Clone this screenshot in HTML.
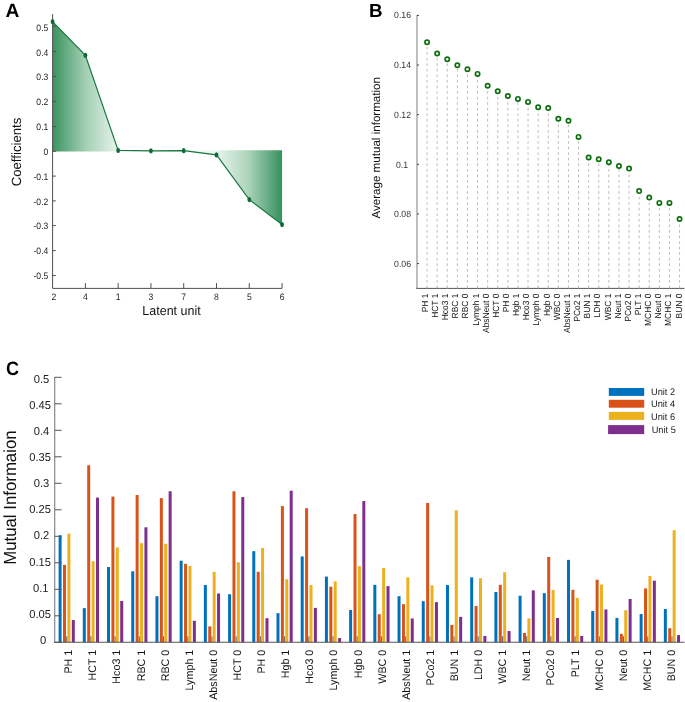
<!DOCTYPE html>
<html><head><meta charset="utf-8"><style>
html,body{margin:0;padding:0;background:#fff;}
svg{display:block;will-change:transform;}
text{font-family:"Liberation Sans", sans-serif;text-rendering:geometricPrecision;}
</style></head><body>
<svg width="685" height="702" viewBox="0 0 685 702" font-family='"Liberation Sans", sans-serif'>
<rect width="685" height="702" fill="#fff"/>
<defs>
<linearGradient id="gpos" gradientUnits="userSpaceOnUse" x1="52.6" y1="0" x2="118.2" y2="0"><stop offset="0" stop-color="#3a935f"/><stop offset="0.5" stop-color="#a3cfb4"/><stop offset="1" stop-color="#e9f4ed"/></linearGradient>
<linearGradient id="gneg" gradientUnits="userSpaceOnUse" x1="212" y1="0" x2="282.1" y2="0"><stop offset="0" stop-color="#eff8f2"/><stop offset="0.5" stop-color="#b0d6bf"/><stop offset="1" stop-color="#35915d"/></linearGradient>
</defs>
<polygon points="52.6,151.4 52.6,21.7 85.38,55.3 118.16,150.4 118.16,151.4" fill="url(#gpos)"/>
<polygon points="183.72,150.3 183.72,150.7 216.5,154.9 249.28,199.6 282.06,224.6 282.06,150.3" fill="url(#gneg)"/>
<path d="M52.6,14 V288.4 H282.06" fill="none" stroke="#505050" stroke-width="1"/>
<line x1="52.6" y1="26.40" x2="55.800000000000004" y2="26.40" stroke="#505050" stroke-width="1"/>
<text transform="translate(48.3,30.70) scale(0.915,1)" text-anchor="end" font-size="9.4" fill="#222">0.5</text>
<line x1="52.6" y1="51.50" x2="55.800000000000004" y2="51.50" stroke="#505050" stroke-width="1"/>
<text transform="translate(48.3,55.54) scale(0.915,1)" text-anchor="end" font-size="9.4" fill="#222">0.4</text>
<line x1="52.6" y1="76.40" x2="55.800000000000004" y2="76.40" stroke="#505050" stroke-width="1"/>
<text transform="translate(48.3,80.38) scale(0.915,1)" text-anchor="end" font-size="9.4" fill="#222">0.3</text>
<line x1="52.6" y1="101.40" x2="55.800000000000004" y2="101.40" stroke="#505050" stroke-width="1"/>
<text transform="translate(48.3,105.22) scale(0.915,1)" text-anchor="end" font-size="9.4" fill="#222">0.2</text>
<line x1="52.6" y1="126.50" x2="55.800000000000004" y2="126.50" stroke="#505050" stroke-width="1"/>
<text transform="translate(48.3,130.06) scale(0.915,1)" text-anchor="end" font-size="9.4" fill="#222">0.1</text>
<line x1="52.6" y1="151.40" x2="55.800000000000004" y2="151.40" stroke="#505050" stroke-width="1"/>
<text transform="translate(48.3,154.90) scale(0.915,1)" text-anchor="end" font-size="9.4" fill="#222">0</text>
<line x1="52.6" y1="176.10" x2="55.800000000000004" y2="176.10" stroke="#505050" stroke-width="1"/>
<text transform="translate(48.3,179.74) scale(0.915,1)" text-anchor="end" font-size="9.4" fill="#222">-0.1</text>
<line x1="52.6" y1="200.90" x2="55.800000000000004" y2="200.90" stroke="#505050" stroke-width="1"/>
<text transform="translate(48.3,204.58) scale(0.915,1)" text-anchor="end" font-size="9.4" fill="#222">-0.2</text>
<line x1="52.6" y1="225.60" x2="55.800000000000004" y2="225.60" stroke="#505050" stroke-width="1"/>
<text transform="translate(48.3,229.42) scale(0.915,1)" text-anchor="end" font-size="9.4" fill="#222">-0.3</text>
<line x1="52.6" y1="250.60" x2="55.800000000000004" y2="250.60" stroke="#505050" stroke-width="1"/>
<text transform="translate(48.3,254.26) scale(0.915,1)" text-anchor="end" font-size="9.4" fill="#222">-0.4</text>
<line x1="52.6" y1="275.50" x2="55.800000000000004" y2="275.50" stroke="#505050" stroke-width="1"/>
<text transform="translate(48.3,279.10) scale(0.915,1)" text-anchor="end" font-size="9.4" fill="#222">-0.5</text>
<line x1="85.38" y1="283.1" x2="85.38" y2="288.4" stroke="#505050" stroke-width="1"/>
<line x1="118.16" y1="283.1" x2="118.16" y2="288.4" stroke="#505050" stroke-width="1"/>
<line x1="150.94" y1="283.1" x2="150.94" y2="288.4" stroke="#505050" stroke-width="1"/>
<line x1="183.72" y1="283.1" x2="183.72" y2="288.4" stroke="#505050" stroke-width="1"/>
<line x1="216.50" y1="283.1" x2="216.50" y2="288.4" stroke="#505050" stroke-width="1"/>
<line x1="249.28" y1="283.1" x2="249.28" y2="288.4" stroke="#505050" stroke-width="1"/>
<line x1="282.06" y1="283.1" x2="282.06" y2="288.4" stroke="#505050" stroke-width="1"/>
<text transform="translate(54.00,299.5) scale(0.915,1)" text-anchor="middle" font-size="9.4" fill="#222">2</text>
<text transform="translate(85.38,299.5) scale(0.915,1)" text-anchor="middle" font-size="9.4" fill="#222">4</text>
<text transform="translate(118.16,299.5) scale(0.915,1)" text-anchor="middle" font-size="9.4" fill="#222">1</text>
<text transform="translate(150.94,299.5) scale(0.915,1)" text-anchor="middle" font-size="9.4" fill="#222">3</text>
<text transform="translate(183.72,299.5) scale(0.915,1)" text-anchor="middle" font-size="9.4" fill="#222">7</text>
<text transform="translate(216.50,299.5) scale(0.915,1)" text-anchor="middle" font-size="9.4" fill="#222">8</text>
<text transform="translate(249.28,299.5) scale(0.915,1)" text-anchor="middle" font-size="9.4" fill="#222">5</text>
<text transform="translate(282.06,299.5) scale(0.915,1)" text-anchor="middle" font-size="9.4" fill="#222">6</text>
<polyline points="52.60,21.7 85.38,55.3 118.16,150.4 150.94,150.8 183.72,150.7 216.50,154.9 249.28,199.6 282.06,224.6" fill="none" stroke="#17773f" stroke-width="1.2"/>
<ellipse cx="52.60" cy="21.7" rx="1.9" ry="2.6" fill="#0e6a35"/>
<ellipse cx="85.38" cy="55.3" rx="1.9" ry="2.6" fill="#0e6a35"/>
<ellipse cx="118.16" cy="150.4" rx="1.9" ry="2.6" fill="#0e6a35"/>
<ellipse cx="150.94" cy="150.8" rx="1.9" ry="2.6" fill="#0e6a35"/>
<ellipse cx="183.72" cy="150.7" rx="1.9" ry="2.6" fill="#0e6a35"/>
<ellipse cx="216.50" cy="154.9" rx="1.9" ry="2.6" fill="#0e6a35"/>
<ellipse cx="249.28" cy="199.6" rx="1.9" ry="2.6" fill="#0e6a35"/>
<ellipse cx="282.06" cy="224.6" rx="1.9" ry="2.6" fill="#0e6a35"/>
<text x="5.6" y="16.9" font-size="19.2" font-weight="bold">A</text>
<text transform="translate(21.4,152) rotate(-90) scale(0.985,1)" text-anchor="middle" font-size="13.4" fill="#111">Coefficients</text>
<text transform="translate(171.5,315) scale(0.96,1)" text-anchor="middle" font-size="13" fill="#111">Latent unit</text>
<text x="368.9" y="16.9" font-size="18.8" font-weight="bold">B</text>
<line x1="417.0" y1="15" x2="417.0" y2="288.4" stroke="#a8a8a8" stroke-width="1.5"/>
<line x1="416.3" y1="288.4" x2="684.5" y2="288.4" stroke="#555" stroke-width="1"/>
<line x1="417.0" y1="263.60" x2="419.0" y2="263.60" stroke="#444" stroke-width="1"/>
<text transform="translate(411,266.50) scale(0.967,1)" text-anchor="end" font-size="9" fill="#333">0.06</text>
<line x1="417.0" y1="213.96" x2="419.0" y2="213.96" stroke="#444" stroke-width="1"/>
<text transform="translate(411,216.86) scale(0.967,1)" text-anchor="end" font-size="9" fill="#333">0.08</text>
<line x1="417.0" y1="164.32" x2="419.0" y2="164.32" stroke="#444" stroke-width="1"/>
<text transform="translate(408.1,168.22) scale(0.967,1)" text-anchor="end" font-size="9" fill="#333">0.1</text>
<line x1="417.0" y1="114.68" x2="419.0" y2="114.68" stroke="#444" stroke-width="1"/>
<text transform="translate(411,117.58) scale(0.967,1)" text-anchor="end" font-size="9" fill="#333">0.12</text>
<line x1="417.0" y1="65.04" x2="419.0" y2="65.04" stroke="#444" stroke-width="1"/>
<text transform="translate(411,67.94) scale(0.967,1)" text-anchor="end" font-size="9" fill="#333">0.14</text>
<line x1="417.0" y1="15.40" x2="419.0" y2="15.40" stroke="#444" stroke-width="1"/>
<text transform="translate(411,18.30) scale(0.967,1)" text-anchor="end" font-size="9" fill="#333">0.16</text>
<line x1="427.05" y1="44.90" x2="427.05" y2="288.09999999999997" stroke="#bdbdbd" stroke-width="1" stroke-dasharray="2.7 2.857" stroke-dashoffset="3.81"/>
<line x1="427.05" y1="286.4" x2="427.05" y2="288.4" stroke="#bbb" stroke-width="0.8"/>
<line x1="437.15" y1="56.10" x2="437.15" y2="288.09999999999997" stroke="#bdbdbd" stroke-width="1" stroke-dasharray="2.7 2.857" stroke-dashoffset="3.89"/>
<line x1="437.15" y1="286.4" x2="437.15" y2="288.4" stroke="#bbb" stroke-width="0.8"/>
<line x1="447.25" y1="61.80" x2="447.25" y2="288.09999999999997" stroke="#bdbdbd" stroke-width="1" stroke-dasharray="2.7 2.857" stroke-dashoffset="4.04"/>
<line x1="447.25" y1="286.4" x2="447.25" y2="288.4" stroke="#bbb" stroke-width="0.8"/>
<line x1="457.35" y1="67.80" x2="457.35" y2="288.09999999999997" stroke="#bdbdbd" stroke-width="1" stroke-dasharray="2.7 2.857" stroke-dashoffset="4.48"/>
<line x1="457.35" y1="286.4" x2="457.35" y2="288.4" stroke="#bbb" stroke-width="0.8"/>
<line x1="467.45" y1="71.80" x2="467.45" y2="288.09999999999997" stroke="#bdbdbd" stroke-width="1" stroke-dasharray="2.7 2.857" stroke-dashoffset="2.92"/>
<line x1="467.45" y1="286.4" x2="467.45" y2="288.4" stroke="#bbb" stroke-width="0.8"/>
<line x1="477.55" y1="76.50" x2="477.55" y2="288.09999999999997" stroke="#bdbdbd" stroke-width="1" stroke-dasharray="2.7 2.857" stroke-dashoffset="2.06"/>
<line x1="477.55" y1="286.4" x2="477.55" y2="288.4" stroke="#bbb" stroke-width="0.8"/>
<line x1="487.65" y1="88.40" x2="487.65" y2="288.09999999999997" stroke="#bdbdbd" stroke-width="1" stroke-dasharray="2.7 2.857" stroke-dashoffset="2.85"/>
<line x1="487.65" y1="286.4" x2="487.65" y2="288.4" stroke="#bbb" stroke-width="0.8"/>
<line x1="497.75" y1="93.90" x2="497.75" y2="288.09999999999997" stroke="#bdbdbd" stroke-width="1" stroke-dasharray="2.7 2.857" stroke-dashoffset="2.79"/>
<line x1="497.75" y1="286.4" x2="497.75" y2="288.4" stroke="#bbb" stroke-width="0.8"/>
<line x1="507.85" y1="98.60" x2="507.85" y2="288.09999999999997" stroke="#bdbdbd" stroke-width="1" stroke-dasharray="2.7 2.857" stroke-dashoffset="1.94"/>
<line x1="507.85" y1="286.4" x2="507.85" y2="288.4" stroke="#bbb" stroke-width="0.8"/>
<line x1="517.95" y1="101.50" x2="517.95" y2="288.09999999999997" stroke="#bdbdbd" stroke-width="1" stroke-dasharray="2.7 2.857" stroke-dashoffset="4.84"/>
<line x1="517.95" y1="286.4" x2="517.95" y2="288.4" stroke="#bbb" stroke-width="0.8"/>
<line x1="528.05" y1="104.50" x2="528.05" y2="288.09999999999997" stroke="#bdbdbd" stroke-width="1" stroke-dasharray="2.7 2.857" stroke-dashoffset="2.28"/>
<line x1="528.05" y1="286.4" x2="528.05" y2="288.4" stroke="#bbb" stroke-width="0.8"/>
<line x1="538.15" y1="109.90" x2="538.15" y2="288.09999999999997" stroke="#bdbdbd" stroke-width="1" stroke-dasharray="2.7 2.857" stroke-dashoffset="2.12"/>
<line x1="538.15" y1="286.4" x2="538.15" y2="288.4" stroke="#bbb" stroke-width="0.8"/>
<line x1="548.25" y1="110.70" x2="548.25" y2="288.09999999999997" stroke="#bdbdbd" stroke-width="1" stroke-dasharray="2.7 2.857" stroke-dashoffset="2.92"/>
<line x1="548.25" y1="286.4" x2="548.25" y2="288.4" stroke="#bbb" stroke-width="0.8"/>
<line x1="558.35" y1="121.30" x2="558.35" y2="288.09999999999997" stroke="#bdbdbd" stroke-width="1" stroke-dasharray="2.7 2.857" stroke-dashoffset="2.41"/>
<line x1="558.35" y1="286.4" x2="558.35" y2="288.4" stroke="#bbb" stroke-width="0.8"/>
<line x1="568.45" y1="123.30" x2="568.45" y2="288.09999999999997" stroke="#bdbdbd" stroke-width="1" stroke-dasharray="2.7 2.857" stroke-dashoffset="4.41"/>
<line x1="568.45" y1="286.4" x2="568.45" y2="288.4" stroke="#bbb" stroke-width="0.8"/>
<line x1="578.55" y1="139.50" x2="578.55" y2="288.09999999999997" stroke="#bdbdbd" stroke-width="1" stroke-dasharray="2.7 2.857" stroke-dashoffset="3.94"/>
<line x1="578.55" y1="286.4" x2="578.55" y2="288.4" stroke="#bbb" stroke-width="0.8"/>
<line x1="588.65" y1="160.10" x2="588.65" y2="288.09999999999997" stroke="#bdbdbd" stroke-width="1" stroke-dasharray="2.7 2.857" stroke-dashoffset="2.31"/>
<line x1="588.65" y1="286.4" x2="588.65" y2="288.4" stroke="#bbb" stroke-width="0.8"/>
<line x1="598.75" y1="161.90" x2="598.75" y2="288.09999999999997" stroke="#bdbdbd" stroke-width="1" stroke-dasharray="2.7 2.857" stroke-dashoffset="4.11"/>
<line x1="598.75" y1="286.4" x2="598.75" y2="288.4" stroke="#bbb" stroke-width="0.8"/>
<line x1="608.85" y1="164.90" x2="608.85" y2="288.09999999999997" stroke="#bdbdbd" stroke-width="1" stroke-dasharray="2.7 2.857" stroke-dashoffset="1.55"/>
<line x1="608.85" y1="286.4" x2="608.85" y2="288.4" stroke="#bbb" stroke-width="0.8"/>
<line x1="618.95" y1="168.60" x2="618.95" y2="288.09999999999997" stroke="#bdbdbd" stroke-width="1" stroke-dasharray="2.7 2.857" stroke-dashoffset="5.25"/>
<line x1="618.95" y1="286.4" x2="618.95" y2="288.4" stroke="#bbb" stroke-width="0.8"/>
<line x1="629.05" y1="171.20" x2="629.05" y2="288.09999999999997" stroke="#bdbdbd" stroke-width="1" stroke-dasharray="2.7 2.857" stroke-dashoffset="2.30"/>
<line x1="629.05" y1="286.4" x2="629.05" y2="288.4" stroke="#bbb" stroke-width="0.8"/>
<line x1="639.15" y1="193.70" x2="639.15" y2="288.09999999999997" stroke="#bdbdbd" stroke-width="1" stroke-dasharray="2.7 2.857" stroke-dashoffset="2.57"/>
<line x1="639.15" y1="286.4" x2="639.15" y2="288.4" stroke="#bbb" stroke-width="0.8"/>
<line x1="649.25" y1="200.20" x2="649.25" y2="288.09999999999997" stroke="#bdbdbd" stroke-width="1" stroke-dasharray="2.7 2.857" stroke-dashoffset="3.51"/>
<line x1="649.25" y1="286.4" x2="649.25" y2="288.4" stroke="#bbb" stroke-width="0.8"/>
<line x1="659.35" y1="205.50" x2="659.35" y2="288.09999999999997" stroke="#bdbdbd" stroke-width="1" stroke-dasharray="2.7 2.857" stroke-dashoffset="3.25"/>
<line x1="659.35" y1="286.4" x2="659.35" y2="288.4" stroke="#bbb" stroke-width="0.8"/>
<line x1="669.45" y1="205.50" x2="669.45" y2="288.09999999999997" stroke="#bdbdbd" stroke-width="1" stroke-dasharray="2.7 2.857" stroke-dashoffset="3.25"/>
<line x1="669.45" y1="286.4" x2="669.45" y2="288.4" stroke="#bbb" stroke-width="0.8"/>
<line x1="679.55" y1="221.60" x2="679.55" y2="288.09999999999997" stroke="#bdbdbd" stroke-width="1" stroke-dasharray="2.7 2.857" stroke-dashoffset="2.68"/>
<line x1="679.55" y1="286.4" x2="679.55" y2="288.4" stroke="#bbb" stroke-width="0.8"/>
<circle cx="427.05" cy="42.3" r="2.15" fill="#fff" stroke="#0b6f0b" stroke-width="1.7"/>
<circle cx="437.15" cy="53.5" r="2.15" fill="#fff" stroke="#0b6f0b" stroke-width="1.7"/>
<circle cx="447.25" cy="59.2" r="2.15" fill="#fff" stroke="#0b6f0b" stroke-width="1.7"/>
<circle cx="457.35" cy="65.2" r="2.15" fill="#fff" stroke="#0b6f0b" stroke-width="1.7"/>
<circle cx="467.45" cy="69.2" r="2.15" fill="#fff" stroke="#0b6f0b" stroke-width="1.7"/>
<circle cx="477.55" cy="73.9" r="2.15" fill="#fff" stroke="#0b6f0b" stroke-width="1.7"/>
<circle cx="487.65" cy="85.8" r="2.15" fill="#fff" stroke="#0b6f0b" stroke-width="1.7"/>
<circle cx="497.75" cy="91.3" r="2.15" fill="#fff" stroke="#0b6f0b" stroke-width="1.7"/>
<circle cx="507.85" cy="96.0" r="2.15" fill="#fff" stroke="#0b6f0b" stroke-width="1.7"/>
<circle cx="517.95" cy="98.9" r="2.15" fill="#fff" stroke="#0b6f0b" stroke-width="1.7"/>
<circle cx="528.05" cy="101.9" r="2.15" fill="#fff" stroke="#0b6f0b" stroke-width="1.7"/>
<circle cx="538.15" cy="107.3" r="2.15" fill="#fff" stroke="#0b6f0b" stroke-width="1.7"/>
<circle cx="548.25" cy="108.1" r="2.15" fill="#fff" stroke="#0b6f0b" stroke-width="1.7"/>
<circle cx="558.35" cy="118.7" r="2.15" fill="#fff" stroke="#0b6f0b" stroke-width="1.7"/>
<circle cx="568.45" cy="120.7" r="2.15" fill="#fff" stroke="#0b6f0b" stroke-width="1.7"/>
<circle cx="578.55" cy="136.9" r="2.15" fill="#fff" stroke="#0b6f0b" stroke-width="1.7"/>
<circle cx="588.65" cy="157.5" r="2.15" fill="#fff" stroke="#0b6f0b" stroke-width="1.7"/>
<circle cx="598.75" cy="159.3" r="2.15" fill="#fff" stroke="#0b6f0b" stroke-width="1.7"/>
<circle cx="608.85" cy="162.3" r="2.15" fill="#fff" stroke="#0b6f0b" stroke-width="1.7"/>
<circle cx="618.95" cy="166.0" r="2.15" fill="#fff" stroke="#0b6f0b" stroke-width="1.7"/>
<circle cx="629.05" cy="168.6" r="2.15" fill="#fff" stroke="#0b6f0b" stroke-width="1.7"/>
<circle cx="639.15" cy="191.1" r="2.15" fill="#fff" stroke="#0b6f0b" stroke-width="1.7"/>
<circle cx="649.25" cy="197.6" r="2.15" fill="#fff" stroke="#0b6f0b" stroke-width="1.7"/>
<circle cx="659.35" cy="202.9" r="2.15" fill="#fff" stroke="#0b6f0b" stroke-width="1.7"/>
<circle cx="669.45" cy="202.9" r="2.15" fill="#fff" stroke="#0b6f0b" stroke-width="1.7"/>
<circle cx="679.55" cy="219.0" r="2.15" fill="#fff" stroke="#0b6f0b" stroke-width="1.7"/>
<text transform="translate(427.80,293.6) rotate(-90) scale(0.95,1)" text-anchor="end" font-size="8.9" fill="#111">PH 1</text>
<text transform="translate(437.95,293.6) rotate(-90) scale(0.95,1)" text-anchor="end" font-size="8.9" fill="#111">HCT 1</text>
<text transform="translate(448.10,293.6) rotate(-90) scale(0.95,1)" text-anchor="end" font-size="8.9" fill="#111">Hco3 1</text>
<text transform="translate(458.25,293.6) rotate(-90) scale(0.95,1)" text-anchor="end" font-size="8.9" fill="#111">RBC 1</text>
<text transform="translate(468.40,293.6) rotate(-90) scale(0.95,1)" text-anchor="end" font-size="8.9" fill="#111">RBC 0</text>
<text transform="translate(478.55,293.6) rotate(-90) scale(0.95,1)" text-anchor="end" font-size="8.9" fill="#111">Lymph 1</text>
<text transform="translate(488.70,293.6) rotate(-90) scale(0.95,1)" text-anchor="end" font-size="8.9" fill="#111">AbsNeut 0</text>
<text transform="translate(498.85,293.6) rotate(-90) scale(0.95,1)" text-anchor="end" font-size="8.9" fill="#111">HCT 0</text>
<text transform="translate(509.00,293.6) rotate(-90) scale(0.95,1)" text-anchor="end" font-size="8.9" fill="#111">PH 0</text>
<text transform="translate(519.15,293.6) rotate(-90) scale(0.95,1)" text-anchor="end" font-size="8.9" fill="#111">Hgb 1</text>
<text transform="translate(529.30,293.6) rotate(-90) scale(0.95,1)" text-anchor="end" font-size="8.9" fill="#111">Hco3 0</text>
<text transform="translate(539.45,293.6) rotate(-90) scale(0.95,1)" text-anchor="end" font-size="8.9" fill="#111">Lymph 0</text>
<text transform="translate(549.60,293.6) rotate(-90) scale(0.95,1)" text-anchor="end" font-size="8.9" fill="#111">Hgb 0</text>
<text transform="translate(559.75,293.6) rotate(-90) scale(0.95,1)" text-anchor="end" font-size="8.9" fill="#111">WBC 0</text>
<text transform="translate(569.90,293.6) rotate(-90) scale(0.95,1)" text-anchor="end" font-size="8.9" fill="#111">AbsNeut 1</text>
<text transform="translate(580.05,293.6) rotate(-90) scale(0.95,1)" text-anchor="end" font-size="8.9" fill="#111">PCo2 1</text>
<text transform="translate(590.20,293.6) rotate(-90) scale(0.95,1)" text-anchor="end" font-size="8.9" fill="#111">BUN 1</text>
<text transform="translate(600.35,293.6) rotate(-90) scale(0.95,1)" text-anchor="end" font-size="8.9" fill="#111">LDH 0</text>
<text transform="translate(610.50,293.6) rotate(-90) scale(0.95,1)" text-anchor="end" font-size="8.9" fill="#111">WBC 1</text>
<text transform="translate(620.65,293.6) rotate(-90) scale(0.95,1)" text-anchor="end" font-size="8.9" fill="#111">Neut 1</text>
<text transform="translate(630.80,293.6) rotate(-90) scale(0.95,1)" text-anchor="end" font-size="8.9" fill="#111">PCo2 0</text>
<text transform="translate(640.95,293.6) rotate(-90) scale(0.95,1)" text-anchor="end" font-size="8.9" fill="#111">PLT 1</text>
<text transform="translate(651.10,293.6) rotate(-90) scale(0.95,1)" text-anchor="end" font-size="8.9" fill="#111">MCHC 0</text>
<text transform="translate(661.25,293.6) rotate(-90) scale(0.95,1)" text-anchor="end" font-size="8.9" fill="#111">Neut 0</text>
<text transform="translate(671.40,293.6) rotate(-90) scale(0.95,1)" text-anchor="end" font-size="8.9" fill="#111">MCHC 1</text>
<text transform="translate(681.55,293.6) rotate(-90) scale(0.95,1)" text-anchor="end" font-size="8.9" fill="#111">BUN 0</text>
<text transform="translate(380.4,147.8) rotate(-90)" text-anchor="middle" font-size="11.6" fill="#111">Average mutual information</text>
<text transform="translate(6.0,374.8) scale(0.93,1)" font-size="19.4" font-weight="bold">C</text>
<rect x="58.60" y="535.24" width="3.0" height="107.06" fill="#0072BD"/>
<rect x="63.00" y="564.92" width="3.0" height="77.38" fill="#D95319"/>
<rect x="67.40" y="533.65" width="3.0" height="108.65" fill="#EDB120"/>
<rect x="71.80" y="620.04" width="3.0" height="22.26" fill="#7E2F8E"/>
<line x1="66.70" y1="636.3" x2="66.70" y2="642.3" stroke="#666" stroke-width="1"/>
<rect x="82.81" y="608.12" width="3.0" height="34.18" fill="#0072BD"/>
<rect x="87.21" y="465.28" width="3.0" height="177.02" fill="#D95319"/>
<rect x="91.61" y="561.21" width="3.0" height="81.09" fill="#EDB120"/>
<rect x="96.01" y="497.61" width="3.0" height="144.69" fill="#7E2F8E"/>
<line x1="90.91" y1="636.3" x2="90.91" y2="642.3" stroke="#666" stroke-width="1"/>
<rect x="107.02" y="567.04" width="3.0" height="75.26" fill="#0072BD"/>
<rect x="111.42" y="496.55" width="3.0" height="145.75" fill="#D95319"/>
<rect x="115.82" y="547.43" width="3.0" height="94.87" fill="#EDB120"/>
<rect x="120.22" y="600.96" width="3.0" height="41.34" fill="#7E2F8E"/>
<line x1="115.12" y1="636.3" x2="115.12" y2="642.3" stroke="#666" stroke-width="1"/>
<rect x="131.23" y="571.28" width="3.0" height="71.02" fill="#0072BD"/>
<rect x="135.63" y="494.96" width="3.0" height="147.34" fill="#D95319"/>
<rect x="140.03" y="543.19" width="3.0" height="99.11" fill="#EDB120"/>
<rect x="144.43" y="527.29" width="3.0" height="115.01" fill="#7E2F8E"/>
<line x1="139.33" y1="636.3" x2="139.33" y2="642.3" stroke="#666" stroke-width="1"/>
<rect x="155.44" y="596.19" width="3.0" height="46.11" fill="#0072BD"/>
<rect x="159.84" y="498.14" width="3.0" height="144.16" fill="#D95319"/>
<rect x="164.24" y="543.72" width="3.0" height="98.58" fill="#EDB120"/>
<rect x="168.64" y="491.25" width="3.0" height="151.05" fill="#7E2F8E"/>
<line x1="163.54" y1="636.3" x2="163.54" y2="642.3" stroke="#666" stroke-width="1"/>
<rect x="179.65" y="560.68" width="3.0" height="81.62" fill="#0072BD"/>
<rect x="184.05" y="563.86" width="3.0" height="78.44" fill="#D95319"/>
<rect x="188.45" y="565.98" width="3.0" height="76.32" fill="#EDB120"/>
<rect x="192.85" y="620.83" width="3.0" height="21.47" fill="#7E2F8E"/>
<line x1="187.75" y1="636.3" x2="187.75" y2="642.3" stroke="#666" stroke-width="1"/>
<rect x="203.86" y="585.06" width="3.0" height="57.24" fill="#0072BD"/>
<rect x="208.26" y="626.40" width="3.0" height="15.90" fill="#D95319"/>
<rect x="212.66" y="571.81" width="3.0" height="70.49" fill="#EDB120"/>
<rect x="217.06" y="593.54" width="3.0" height="48.76" fill="#7E2F8E"/>
<line x1="211.96" y1="636.3" x2="211.96" y2="642.3" stroke="#666" stroke-width="1"/>
<rect x="228.07" y="594.23" width="3.0" height="48.07" fill="#0072BD"/>
<rect x="232.47" y="491.25" width="3.0" height="151.05" fill="#D95319"/>
<rect x="236.87" y="562.27" width="3.0" height="80.03" fill="#EDB120"/>
<rect x="241.27" y="497.08" width="3.0" height="145.22" fill="#7E2F8E"/>
<line x1="236.17" y1="636.3" x2="236.17" y2="642.3" stroke="#666" stroke-width="1"/>
<rect x="252.28" y="551.14" width="3.0" height="91.16" fill="#0072BD"/>
<rect x="256.68" y="571.81" width="3.0" height="70.49" fill="#D95319"/>
<rect x="261.08" y="547.96" width="3.0" height="94.34" fill="#EDB120"/>
<rect x="265.48" y="618.18" width="3.0" height="24.12" fill="#7E2F8E"/>
<line x1="260.38" y1="636.3" x2="260.38" y2="642.3" stroke="#666" stroke-width="1"/>
<rect x="276.49" y="613.15" width="3.0" height="29.15" fill="#0072BD"/>
<rect x="280.89" y="506.09" width="3.0" height="136.21" fill="#D95319"/>
<rect x="285.29" y="579.23" width="3.0" height="63.07" fill="#EDB120"/>
<rect x="289.69" y="490.72" width="3.0" height="151.58" fill="#7E2F8E"/>
<line x1="284.59" y1="636.3" x2="284.59" y2="642.3" stroke="#666" stroke-width="1"/>
<rect x="300.70" y="556.44" width="3.0" height="85.86" fill="#0072BD"/>
<rect x="305.10" y="508.21" width="3.0" height="134.09" fill="#D95319"/>
<rect x="309.50" y="585.06" width="3.0" height="57.24" fill="#EDB120"/>
<rect x="313.90" y="607.85" width="3.0" height="34.45" fill="#7E2F8E"/>
<line x1="308.80" y1="636.3" x2="308.80" y2="642.3" stroke="#666" stroke-width="1"/>
<rect x="324.91" y="576.58" width="3.0" height="65.72" fill="#0072BD"/>
<rect x="329.31" y="586.65" width="3.0" height="55.65" fill="#D95319"/>
<rect x="333.71" y="581.35" width="3.0" height="60.95" fill="#EDB120"/>
<rect x="338.11" y="638.06" width="3.0" height="4.24" fill="#7E2F8E"/>
<line x1="333.01" y1="636.3" x2="333.01" y2="642.3" stroke="#666" stroke-width="1"/>
<rect x="349.12" y="609.97" width="3.0" height="32.33" fill="#0072BD"/>
<rect x="353.52" y="514.04" width="3.0" height="128.26" fill="#D95319"/>
<rect x="357.92" y="566.19" width="3.0" height="76.11" fill="#EDB120"/>
<rect x="362.32" y="501.05" width="3.0" height="141.25" fill="#7E2F8E"/>
<line x1="357.22" y1="636.3" x2="357.22" y2="642.3" stroke="#666" stroke-width="1"/>
<rect x="373.33" y="584.85" width="3.0" height="57.45" fill="#0072BD"/>
<rect x="377.73" y="614.21" width="3.0" height="28.09" fill="#D95319"/>
<rect x="382.13" y="567.89" width="3.0" height="74.41" fill="#EDB120"/>
<rect x="386.53" y="586.12" width="3.0" height="56.18" fill="#7E2F8E"/>
<line x1="381.43" y1="636.3" x2="381.43" y2="642.3" stroke="#666" stroke-width="1"/>
<rect x="397.54" y="596.19" width="3.0" height="46.11" fill="#0072BD"/>
<rect x="401.94" y="604.14" width="3.0" height="38.16" fill="#D95319"/>
<rect x="406.34" y="577.38" width="3.0" height="64.92" fill="#EDB120"/>
<rect x="410.74" y="618.45" width="3.0" height="23.85" fill="#7E2F8E"/>
<line x1="405.64" y1="636.3" x2="405.64" y2="642.3" stroke="#666" stroke-width="1"/>
<rect x="421.75" y="601.17" width="3.0" height="41.13" fill="#0072BD"/>
<rect x="426.15" y="502.91" width="3.0" height="139.39" fill="#D95319"/>
<rect x="430.55" y="585.38" width="3.0" height="56.92" fill="#EDB120"/>
<rect x="434.95" y="602.13" width="3.0" height="40.17" fill="#7E2F8E"/>
<line x1="429.85" y1="636.3" x2="429.85" y2="642.3" stroke="#666" stroke-width="1"/>
<rect x="445.96" y="585.06" width="3.0" height="57.24" fill="#0072BD"/>
<rect x="450.36" y="624.92" width="3.0" height="17.38" fill="#D95319"/>
<rect x="454.76" y="510.33" width="3.0" height="131.97" fill="#EDB120"/>
<rect x="459.16" y="616.86" width="3.0" height="25.44" fill="#7E2F8E"/>
<line x1="454.06" y1="636.3" x2="454.06" y2="642.3" stroke="#666" stroke-width="1"/>
<rect x="470.17" y="577.38" width="3.0" height="64.92" fill="#0072BD"/>
<rect x="474.57" y="605.94" width="3.0" height="36.36" fill="#D95319"/>
<rect x="478.97" y="578.28" width="3.0" height="64.02" fill="#EDB120"/>
<rect x="483.37" y="635.94" width="3.0" height="6.36" fill="#7E2F8E"/>
<line x1="478.27" y1="636.3" x2="478.27" y2="642.3" stroke="#666" stroke-width="1"/>
<rect x="494.38" y="591.95" width="3.0" height="50.35" fill="#0072BD"/>
<rect x="498.78" y="584.85" width="3.0" height="57.45" fill="#D95319"/>
<rect x="503.18" y="572.29" width="3.0" height="70.01" fill="#EDB120"/>
<rect x="507.58" y="631.01" width="3.0" height="11.29" fill="#7E2F8E"/>
<line x1="502.48" y1="636.3" x2="502.48" y2="642.3" stroke="#666" stroke-width="1"/>
<rect x="518.59" y="595.77" width="3.0" height="46.53" fill="#0072BD"/>
<rect x="522.99" y="632.92" width="3.0" height="9.38" fill="#D95319"/>
<rect x="527.39" y="618.34" width="3.0" height="23.96" fill="#EDB120"/>
<rect x="531.79" y="590.36" width="3.0" height="51.94" fill="#7E2F8E"/>
<line x1="526.69" y1="636.3" x2="526.69" y2="642.3" stroke="#666" stroke-width="1"/>
<rect x="542.80" y="593.17" width="3.0" height="49.13" fill="#0072BD"/>
<rect x="547.20" y="556.97" width="3.0" height="85.33" fill="#D95319"/>
<rect x="551.60" y="589.94" width="3.0" height="52.36" fill="#EDB120"/>
<rect x="556.00" y="617.92" width="3.0" height="24.38" fill="#7E2F8E"/>
<line x1="550.90" y1="636.3" x2="550.90" y2="642.3" stroke="#666" stroke-width="1"/>
<rect x="567.01" y="559.88" width="3.0" height="82.41" fill="#0072BD"/>
<rect x="571.41" y="589.83" width="3.0" height="52.47" fill="#D95319"/>
<rect x="575.81" y="597.78" width="3.0" height="44.52" fill="#EDB120"/>
<rect x="580.21" y="635.94" width="3.0" height="6.36" fill="#7E2F8E"/>
<line x1="575.11" y1="636.3" x2="575.11" y2="642.3" stroke="#666" stroke-width="1"/>
<rect x="591.22" y="611.03" width="3.0" height="31.27" fill="#0072BD"/>
<rect x="595.62" y="579.76" width="3.0" height="62.54" fill="#D95319"/>
<rect x="600.02" y="584.53" width="3.0" height="57.77" fill="#EDB120"/>
<rect x="604.42" y="609.44" width="3.0" height="32.86" fill="#7E2F8E"/>
<line x1="599.32" y1="636.3" x2="599.32" y2="642.3" stroke="#666" stroke-width="1"/>
<rect x="615.43" y="617.92" width="3.0" height="24.38" fill="#0072BD"/>
<rect x="619.83" y="633.82" width="3.0" height="8.48" fill="#D95319"/>
<rect x="624.23" y="610.23" width="3.0" height="32.07" fill="#EDB120"/>
<rect x="628.63" y="598.95" width="3.0" height="43.35" fill="#7E2F8E"/>
<line x1="623.53" y1="636.3" x2="623.53" y2="642.3" stroke="#666" stroke-width="1"/>
<rect x="639.64" y="614.05" width="3.0" height="28.25" fill="#0072BD"/>
<rect x="644.04" y="588.45" width="3.0" height="53.85" fill="#D95319"/>
<rect x="648.44" y="575.89" width="3.0" height="66.41" fill="#EDB120"/>
<rect x="652.84" y="580.66" width="3.0" height="61.64" fill="#7E2F8E"/>
<line x1="647.74" y1="636.3" x2="647.74" y2="642.3" stroke="#666" stroke-width="1"/>
<rect x="663.85" y="609.02" width="3.0" height="33.28" fill="#0072BD"/>
<rect x="668.25" y="628.20" width="3.0" height="14.10" fill="#D95319"/>
<rect x="672.65" y="530.20" width="3.0" height="112.10" fill="#EDB120"/>
<rect x="677.05" y="635.09" width="3.0" height="7.21" fill="#7E2F8E"/>
<line x1="671.95" y1="636.3" x2="671.95" y2="642.3" stroke="#666" stroke-width="1"/>
<line x1="54.7" y1="377" x2="54.7" y2="642.3" stroke="#888" stroke-width="1.2"/>
<line x1="54.1" y1="642.3" x2="684.5" y2="642.3" stroke="#555" stroke-width="1.1"/>
<line x1="54.7" y1="642.30" x2="61.6" y2="642.30" stroke="#555" stroke-width="1"/>
<text transform="translate(43.05,643.75) scale(0.97,1)" text-anchor="middle" font-size="11.5" fill="#222">0</text>
<line x1="54.7" y1="615.80" x2="61.6" y2="615.80" stroke="#555" stroke-width="1"/>
<text transform="translate(40.1,617.67) scale(0.97,1)" text-anchor="middle" font-size="11.5" fill="#222">0.05</text>
<line x1="54.7" y1="589.30" x2="61.6" y2="589.30" stroke="#555" stroke-width="1"/>
<text transform="translate(40.8,591.59) scale(0.97,1)" text-anchor="middle" font-size="11.5" fill="#222">0.1</text>
<line x1="54.7" y1="562.80" x2="61.6" y2="562.80" stroke="#555" stroke-width="1"/>
<text transform="translate(40.1,565.51) scale(0.97,1)" text-anchor="middle" font-size="11.5" fill="#222">0.15</text>
<line x1="54.7" y1="536.30" x2="61.6" y2="536.30" stroke="#555" stroke-width="1"/>
<text transform="translate(41.5,539.43) scale(0.97,1)" text-anchor="middle" font-size="11.5" fill="#222">0.2</text>
<line x1="54.7" y1="509.80" x2="61.6" y2="509.80" stroke="#555" stroke-width="1"/>
<text transform="translate(40.1,513.35) scale(0.97,1)" text-anchor="middle" font-size="11.5" fill="#222">0.25</text>
<line x1="54.7" y1="483.30" x2="61.6" y2="483.30" stroke="#555" stroke-width="1"/>
<text transform="translate(41.5,487.27) scale(0.97,1)" text-anchor="middle" font-size="11.5" fill="#222">0.3</text>
<line x1="54.7" y1="456.80" x2="61.6" y2="456.80" stroke="#555" stroke-width="1"/>
<text transform="translate(40.1,461.19) scale(0.97,1)" text-anchor="middle" font-size="11.5" fill="#222">0.35</text>
<line x1="54.7" y1="430.30" x2="61.6" y2="430.30" stroke="#555" stroke-width="1"/>
<text transform="translate(41.5,435.11) scale(0.97,1)" text-anchor="middle" font-size="11.5" fill="#222">0.4</text>
<line x1="54.7" y1="403.80" x2="61.6" y2="403.80" stroke="#555" stroke-width="1"/>
<text transform="translate(40.1,409.03) scale(0.97,1)" text-anchor="middle" font-size="11.5" fill="#222">0.45</text>
<line x1="54.7" y1="377.30" x2="61.6" y2="377.30" stroke="#555" stroke-width="1"/>
<text transform="translate(41.5,382.95) scale(0.97,1)" text-anchor="middle" font-size="11.5" fill="#222">0.5</text>
<text transform="translate(72.20,649.7) rotate(-90) scale(0.975,1)" text-anchor="end" font-size="11" fill="#111">PH 1</text>
<text transform="translate(96.31,649.7) rotate(-90) scale(0.975,1)" text-anchor="end" font-size="11" fill="#111">HCT 1</text>
<text transform="translate(120.42,649.7) rotate(-90) scale(0.975,1)" text-anchor="end" font-size="11" fill="#111">Hco3 1</text>
<text transform="translate(144.53,649.7) rotate(-90) scale(0.975,1)" text-anchor="end" font-size="11" fill="#111">RBC 1</text>
<text transform="translate(168.64,649.7) rotate(-90) scale(0.975,1)" text-anchor="end" font-size="11" fill="#111">RBC 0</text>
<text transform="translate(192.75,649.7) rotate(-90) scale(0.975,1)" text-anchor="end" font-size="11" fill="#111">Lymph 1</text>
<text transform="translate(216.86,649.7) rotate(-90) scale(0.975,1)" text-anchor="end" font-size="11" fill="#111">AbsNeut 0</text>
<text transform="translate(240.97,649.7) rotate(-90) scale(0.975,1)" text-anchor="end" font-size="11" fill="#111">HCT 0</text>
<text transform="translate(265.08,649.7) rotate(-90) scale(0.975,1)" text-anchor="end" font-size="11" fill="#111">PH 0</text>
<text transform="translate(289.19,649.7) rotate(-90) scale(0.975,1)" text-anchor="end" font-size="11" fill="#111">Hgb 1</text>
<text transform="translate(313.30,649.7) rotate(-90) scale(0.975,1)" text-anchor="end" font-size="11" fill="#111">Hco3 0</text>
<text transform="translate(337.41,649.7) rotate(-90) scale(0.975,1)" text-anchor="end" font-size="11" fill="#111">Lymph 0</text>
<text transform="translate(361.52,649.7) rotate(-90) scale(0.975,1)" text-anchor="end" font-size="11" fill="#111">Hgb 0</text>
<text transform="translate(385.63,649.7) rotate(-90) scale(0.975,1)" text-anchor="end" font-size="11" fill="#111">WBC 0</text>
<text transform="translate(409.74,649.7) rotate(-90) scale(0.975,1)" text-anchor="end" font-size="11" fill="#111">AbsNeut 1</text>
<text transform="translate(433.85,649.7) rotate(-90) scale(0.975,1)" text-anchor="end" font-size="11" fill="#111">PCo2 1</text>
<text transform="translate(457.96,649.7) rotate(-90) scale(0.975,1)" text-anchor="end" font-size="11" fill="#111">BUN 1</text>
<text transform="translate(482.07,649.7) rotate(-90) scale(0.975,1)" text-anchor="end" font-size="11" fill="#111">LDH 0</text>
<text transform="translate(506.18,649.7) rotate(-90) scale(0.975,1)" text-anchor="end" font-size="11" fill="#111">WBC 1</text>
<text transform="translate(530.29,649.7) rotate(-90) scale(0.975,1)" text-anchor="end" font-size="11" fill="#111">Neut 1</text>
<text transform="translate(554.40,649.7) rotate(-90) scale(0.975,1)" text-anchor="end" font-size="11" fill="#111">PCo2 0</text>
<text transform="translate(578.51,649.7) rotate(-90) scale(0.975,1)" text-anchor="end" font-size="11" fill="#111">PLT 1</text>
<text transform="translate(602.62,649.7) rotate(-90) scale(0.975,1)" text-anchor="end" font-size="11" fill="#111">MCHC 0</text>
<text transform="translate(626.73,649.7) rotate(-90) scale(0.975,1)" text-anchor="end" font-size="11" fill="#111">Neut 0</text>
<text transform="translate(650.84,649.7) rotate(-90) scale(0.975,1)" text-anchor="end" font-size="11" fill="#111">MCHC 1</text>
<text transform="translate(674.95,649.7) rotate(-90) scale(0.975,1)" text-anchor="end" font-size="11" fill="#111">BUN 0</text>
<text transform="translate(16.2,497.6) rotate(-90) scale(0.96,1)" text-anchor="middle" font-size="17.5" fill="#111">Mutual Informaion</text>
<rect x="608.8" y="388" width="35.4" height="7.9" fill="#0072BD"/>
<text transform="translate(651,395.1) scale(0.96,1)" font-size="9.6" fill="#222">Unit 2</text>
<rect x="608.8" y="399.8" width="35.4" height="7.9" fill="#D95319"/>
<text transform="translate(651,407.1) scale(0.96,1)" font-size="9.6" fill="#222">Unit 4</text>
<rect x="608.8" y="411.9" width="35.4" height="8.0" fill="#EDB120"/>
<text transform="translate(651,419.6) scale(0.96,1)" font-size="9.6" fill="#222">Unit 6</text>
<rect x="608.1" y="425.1" width="36.1" height="9.0" fill="#7E2F8E"/>
<text transform="translate(651.7,433.1) scale(0.96,1)" font-size="9.6" fill="#222">Unit 5</text>
</svg>
</body></html>
